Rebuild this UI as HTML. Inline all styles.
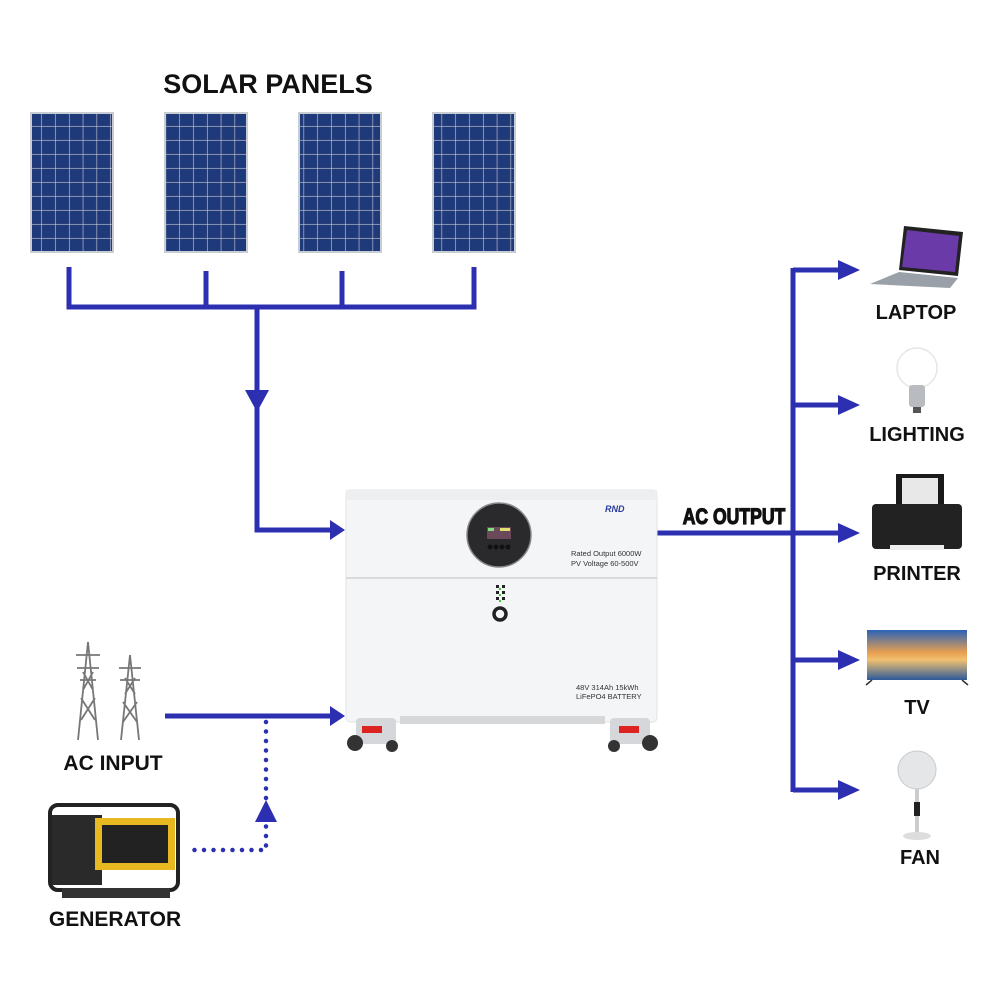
<!DOCTYPE html>
<html><head><meta charset="utf-8"><style>
html,body{margin:0;padding:0;background:#fff}
svg{display:block}
text{font-family:"Liberation Sans","DejaVu Sans",sans-serif;font-weight:bold;fill:#111}
</style></head><body>
<svg width="1000" height="1000" viewBox="0 0 1000 1000" xmlns="http://www.w3.org/2000/svg">
<defs>
<pattern id="cells" x="0" y="0" width="13.8" height="14" patternUnits="userSpaceOnUse">
<rect width="13.8" height="14" fill="#2a3f78"/>
<rect x="1" y="1" width="12" height="12" fill="#1f3a7a"/>
<line x1="0" y1="0" x2="0" y2="14" stroke="#d8dde8" stroke-width="1"/>
<line x1="0" y1="0" x2="13.8" y2="0" stroke="#d8dde8" stroke-width="1"/>
</pattern>
<linearGradient id="tv" x1="0" y1="0" x2="0" y2="1">
<stop offset="0" stop-color="#2b63b8"/><stop offset="0.45" stop-color="#e8a050"/><stop offset="0.6" stop-color="#f0c070"/><stop offset="1" stop-color="#2c5a9a"/>
</linearGradient>
</defs>

<text x="268" y="93" font-size="27" text-anchor="middle">SOLAR PANELS</text>

<g>
<rect x="30" y="112" width="84" height="141" fill="#c8cdd4"/>
<rect x="32" y="114" width="80" height="137" fill="url(#cells)"/>
<rect x="164" y="112" width="84" height="141" fill="#c8cdd4"/>
<rect x="166" y="114" width="80" height="137" fill="url(#cells)"/>
<rect x="298" y="112" width="84" height="141" fill="#c8cdd4"/>
<rect x="300" y="114" width="80" height="137" fill="url(#cells)"/>
<rect x="432" y="112" width="84" height="141" fill="#c8cdd4"/>
<rect x="434" y="114" width="80" height="137" fill="url(#cells)"/>
</g>

<g stroke="#2b2fb0" stroke-width="5" fill="none">
<path d="M69 267 V307 H474 V267"/>
<path d="M206 271 V307 M342 271 V307"/>
<path d="M257 307 V530 H332"/>
<path d="M165 716 H332"/>
<path d="M657 533 H842"/>
<path d="M793 268 V792"/>
<path d="M793 270 H842 M793 405 H842 M793 660 H842 M793 790 H842"/>
</g>
<g fill="#2b2fb0">
<polygon points="245,390 269,390 257,412"/>
<polygon points="330,520 345,530 330,540"/>
<polygon points="330,706 345,716 330,726"/>
<polygon points="838,260 860,270 838,280"/>
<polygon points="838,395 860,405 838,415"/>
<polygon points="838,523 860,533 838,543"/>
<polygon points="838,650 860,660 838,670"/>
<polygon points="838,780 860,790 838,800"/>
<polygon points="255,822 277,822 266,800"/>
</g>
<g stroke="#2b2fb0" stroke-width="4.5" stroke-linecap="round" stroke-dasharray="0 9.5" fill="none">
<path d="M266 722 V850 H186"/>
</g>

<g>
<rect x="346" y="490" width="311" height="232" rx="4" fill="#f4f5f6" stroke="#e2e4e6"/>
<rect x="346" y="490" width="311" height="10" fill="#eceeef"/>
<line x1="346" y1="578" x2="657" y2="578" stroke="#d8dadc" stroke-width="2"/>
<rect x="400" y="716" width="205" height="8" fill="#d5d7d9"/>
<circle cx="499" cy="535" r="32" fill="#2a2a2c" stroke="#888" stroke-width="1.5"/>
<rect x="487" y="527" width="24" height="12" fill="#6a4a5a"/>
<rect x="488" y="528" width="6" height="3" fill="#7de07a"/>
<rect x="500" y="528" width="10" height="3" fill="#e0e070"/>
<g fill="#111"><circle cx="490" cy="547" r="2.5"/><circle cx="496" cy="547" r="2.5"/><circle cx="502" cy="547" r="2.5"/><circle cx="508" cy="547" r="2.5"/></g>
<text x="605" y="512" font-size="9" style="fill:#2a3ca0;font-style:italic">RND</text>
<text x="571" y="556" font-size="7.5" style="font-weight:normal;fill:#333">Rated Output  6000W</text>
<text x="571" y="566" font-size="7.5" style="font-weight:normal;fill:#333">PV  Voltage  60-500V</text>
<text x="576" y="690" font-size="7.5" style="font-weight:normal;fill:#333">48V  314Ah  15kWh</text>
<text x="576" y="699" font-size="7.5" style="font-weight:normal;fill:#333">LiFePO4  BATTERY</text>
<g fill="#222"><rect x="496" y="585" width="3" height="3"/><rect x="502" y="585" width="3" height="3"/><rect x="496" y="591" width="3" height="3"/><rect x="502" y="591" width="3" height="3"/><rect x="496" y="597" width="3" height="3"/><rect x="502" y="597" width="3" height="3"/></g>
<g fill="#3c3"><rect x="499" y="588" width="2" height="2"/><rect x="499" y="594" width="2" height="2"/><rect x="499" y="600" width="2" height="2"/></g>
<circle cx="500" cy="614" r="6" fill="none" stroke="#222" stroke-width="3.5"/>
<rect x="356" y="718" width="40" height="26" rx="4" fill="#d5d7da"/>
<rect x="362" y="726" width="20" height="7" fill="#d22"/>
<circle cx="355" cy="743" r="8" fill="#333"/>
<circle cx="392" cy="746" r="6" fill="#333"/>
<rect x="610" y="718" width="40" height="26" rx="4" fill="#d5d7da"/>
<rect x="619" y="726" width="20" height="7" fill="#d22"/>
<circle cx="650" cy="743" r="8" fill="#333"/>
<circle cx="614" cy="746" r="6" fill="#333"/>
</g>

<text x="734" y="524" font-size="22" text-anchor="middle" stroke="#111" stroke-width="1.2" transform="translate(734 0) scale(0.8 1) translate(-734 0)">AC OUTPUT</text>

<g stroke="#777" stroke-width="1.8" fill="none">
<path d="M78 740 L88 642 L98 740 M81 720 L95 698 M95 720 L81 698 M83 690 L93 672 M93 690 L83 672 M76 655 H100 M77 668 H99 M80 680 H96"/>
<path d="M121 740 L130 655 L139 740 M123 722 L137 702 M137 722 L123 702 M125 694 L135 678 M135 694 L125 678 M119 668 H141 M120 680 H140"/>
</g>
<text x="113" y="770" font-size="21" text-anchor="middle">AC INPUT</text>

<g>
<rect x="50" y="805" width="128" height="85" rx="8" fill="none" stroke="#222" stroke-width="4"/>
<rect x="52" y="815" width="50" height="70" fill="#2a2a2a"/>
<rect x="95" y="818" width="80" height="52" fill="#e8b820"/>
<rect x="102" y="825" width="66" height="38" fill="#222"/>
<rect x="62" y="888" width="108" height="10" fill="#333"/>
</g>
<text x="115" y="926" font-size="21" text-anchor="middle">GENERATOR</text>

<g>
<polygon points="904,226 963,232 958,276 899,270" fill="#222"/>
<polygon points="907,230 959,236 955,272 902,267" fill="#6a3aa8"/>
<polygon points="899,272 958,278 950,288 870,284" fill="#9aa0a8"/>
</g>
<text x="916" y="319" font-size="20" text-anchor="middle">LAPTOP</text>
<g>
<circle cx="917" cy="368" r="20" fill="none" stroke="#e6e6e6" stroke-width="1.5"/>
<rect x="909" y="385" width="16" height="22" rx="3" fill="#b8bcc0"/>
<rect x="913" y="407" width="8" height="6" fill="#555"/>
</g>
<text x="917" y="441" font-size="20" text-anchor="middle">LIGHTING</text>
<g>
<rect x="896" y="474" width="48" height="35" fill="#1a1a1a"/>
<rect x="902" y="478" width="36" height="30" fill="#e8e8e8"/>
<rect x="872" y="504" width="90" height="45" rx="4" fill="#222"/>
<rect x="890" y="545" width="54" height="5" fill="#eee"/>
</g>
<text x="917" y="580" font-size="20" text-anchor="middle">PRINTER</text>
<g>
<rect x="867" y="630" width="100" height="50" fill="url(#tv)"/>
<path d="M872 680 l-6 5 M962 680 l6 5" stroke="#333" stroke-width="1.5"/>
</g>
<text x="917" y="714" font-size="20" text-anchor="middle">TV</text>
<g>
<circle cx="917" cy="770" r="19" fill="#e4e6e8" stroke="#c8cacc"/>
<rect x="915" y="789" width="4" height="44" fill="#ccc"/>
<rect x="914" y="802" width="6" height="14" fill="#222"/>
<ellipse cx="917" cy="836" rx="14" ry="4" fill="#ddd"/>
</g>
<text x="920" y="864" font-size="20" text-anchor="middle">FAN</text>
</svg>
</body></html>
